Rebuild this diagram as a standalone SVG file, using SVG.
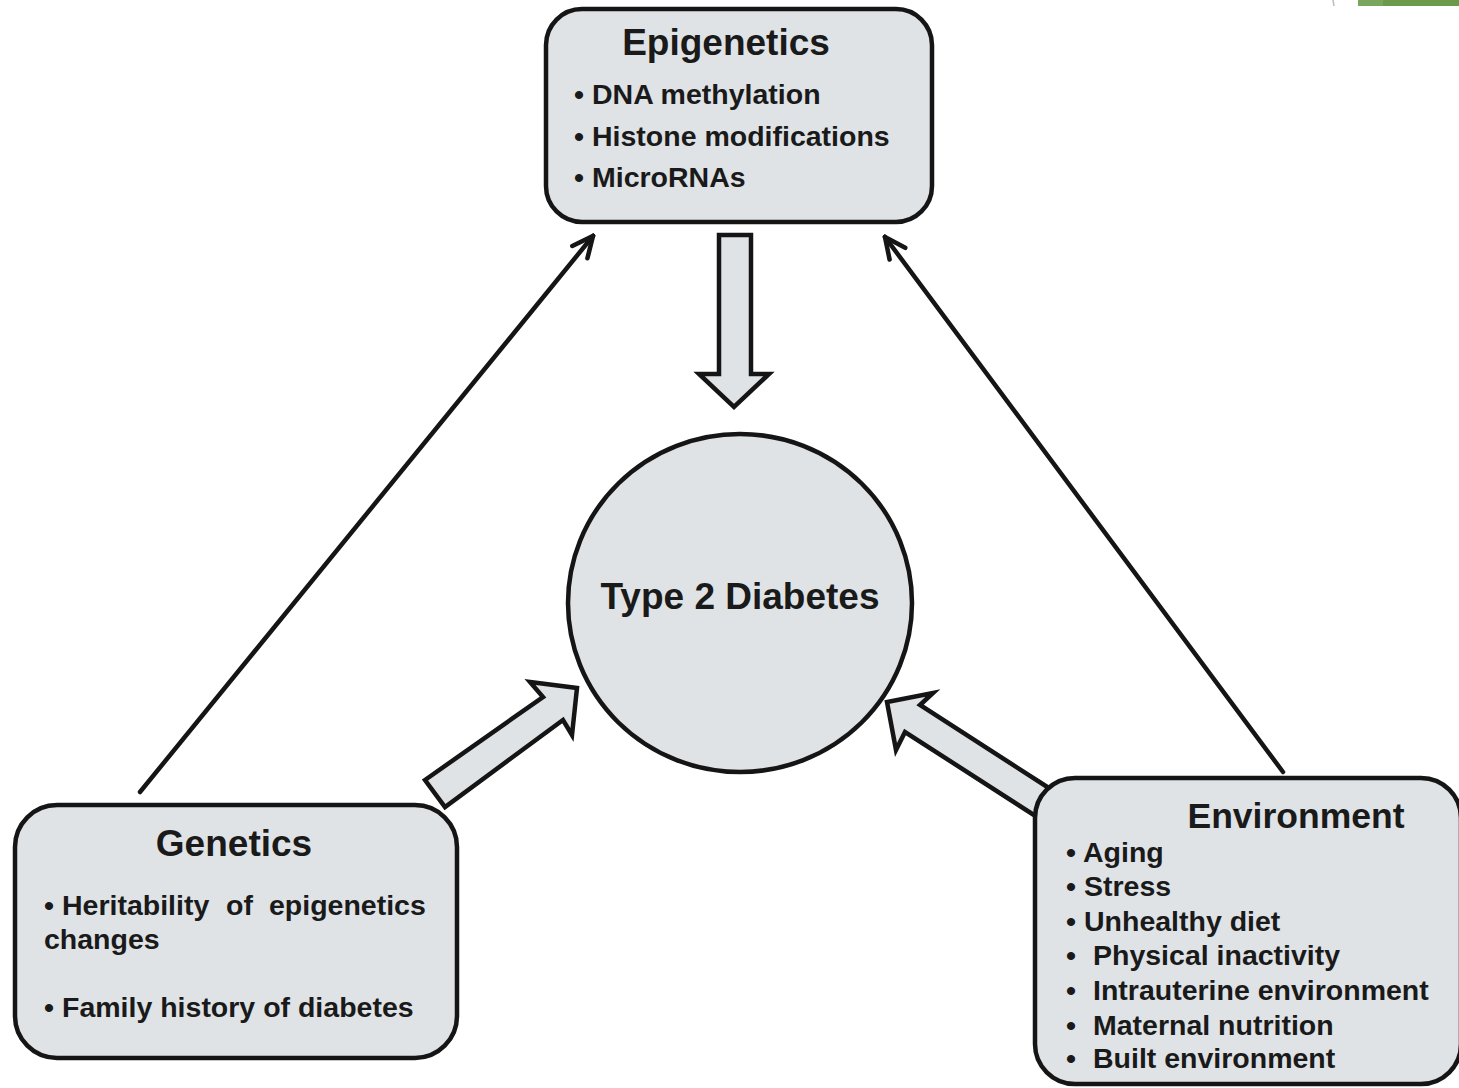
<svg xmlns="http://www.w3.org/2000/svg" width="1459" height="1088" viewBox="0 0 1459 1088">
<defs>
<style>
.box{fill:#dfe3e6;stroke:#151515;stroke-width:4.5}
.fat{fill:#dfe3e6;stroke:#151515;stroke-width:4.5;stroke-linejoin:miter}
.thin{fill:none;stroke:#151515;stroke-width:4.5;stroke-linecap:round}
text{font-family:"Liberation Sans",Arial,sans-serif;font-weight:bold;fill:#1a1a1a}
.title{font-size:37px;text-anchor:middle}
.item{font-size:28.5px}
</style>
<marker id="open" viewBox="0 0 20 20" refX="18" refY="10" markerWidth="26" markerHeight="26" markerUnits="userSpaceOnUse" orient="auto">
<path d="M2,2.5 L18,10 L2,17.5" fill="none" stroke="#151515" stroke-width="3.5" stroke-linecap="round" stroke-linejoin="miter"/>
</marker>
</defs>
<rect width="1459" height="1088" fill="#ffffff"/>
<rect x="1358" y="0" width="101" height="6" fill="#6c9a4c"/>
<rect x="1358" y="0" width="25" height="6" fill="#7aa55c"/>
<line x1="1333" y1="0" x2="1334" y2="6" stroke="#bbbbbb" stroke-width="1.5"/>

<g id="connectors">
<line class="thin" x1="140" y1="792" x2="593" y2="236" marker-end="url(#open)"/>
<line class="thin" x1="1283" y1="772" x2="885" y2="237" marker-end="url(#open)"/>
<polygon class="fat" points="719,235 751,235 751,374 769,374 734,407 699,374 719,374"/>
<polygon class="fat" points="425,780 543,697 530,682 577,688 572,735 563,720 445,807"/>
<polygon class="fat" points="1052,790 920,705 933,693 887,702 896,750 905,732 1037,817"/>
</g>

<g id="epigenetics">
<rect class="box" x="546" y="9" width="386" height="213" rx="36"/>
<text class="title" x="726" y="55">Epigenetics</text>
<text class="item" y="104"><tspan x="574">•</tspan><tspan x="592">DNA methylation</tspan></text>
<text class="item" y="146"><tspan x="574">•</tspan><tspan x="592">Histone modifications</tspan></text>
<text class="item" y="187"><tspan x="574">•</tspan><tspan x="592">MicroRNAs</tspan></text>
</g>

<g id="diabetes">
<ellipse class="box" cx="740" cy="603" rx="172" ry="169"/>
<text class="title" x="740" y="609">Type 2 Diabetes</text>
</g>

<g id="genetics">
<rect class="box" x="15" y="805" width="442" height="253" rx="42"/>
<text class="title" x="234" y="856">Genetics</text>
<text class="item" y="915"><tspan x="44">•</tspan><tspan x="62">Heritability</tspan><tspan x="226">of</tspan><tspan x="269">epigenetics</tspan></text>
<text class="item" x="44" y="949">changes</text>
<text class="item" y="1017"><tspan x="44">•</tspan><tspan x="62">Family history of diabetes</tspan></text>
</g>

<g id="environment">
<rect class="box" x="1035" y="778" width="426" height="306" rx="40"/>
<text class="title" x="1296" y="828" style="font-size:35.5px">Environment</text>
<text class="item" y="862"><tspan x="1066">•</tspan><tspan x="1083">Aging</tspan></text>
<text class="item" y="896"><tspan x="1066">•</tspan><tspan x="1084">Stress</tspan></text>
<text class="item" y="931"><tspan x="1066">•</tspan><tspan x="1084">Unhealthy diet</tspan></text>
<text class="item" y="965"><tspan x="1066">•</tspan><tspan x="1093">Physical inactivity</tspan></text>
<text class="item" y="1000"><tspan x="1066">•</tspan><tspan x="1093">Intrauterine environment</tspan></text>
<text class="item" y="1035"><tspan x="1066">•</tspan><tspan x="1093">Maternal nutrition</tspan></text>
<text class="item" y="1068"><tspan x="1066">•</tspan><tspan x="1093">Built environment</tspan></text>
</g>
</svg>
